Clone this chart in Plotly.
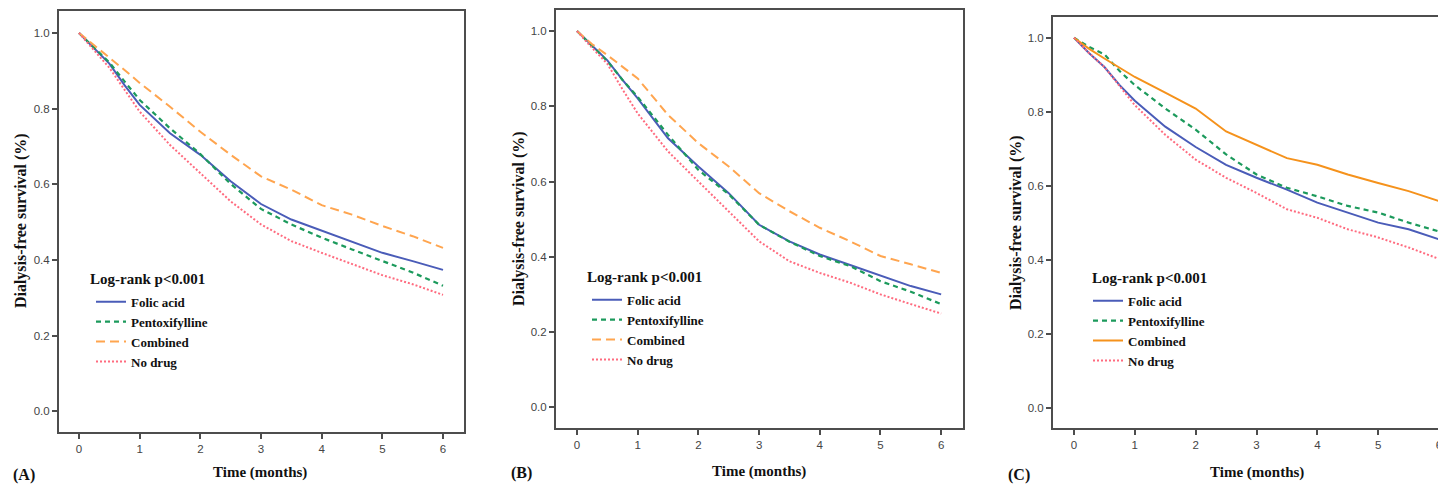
import plotly.graph_objects as go

# ---------------- data ----------------
time_months = [0, 0.25, 0.5, 0.75, 1, 1.5, 2, 2.5, 3, 3.5, 4, 4.5, 5, 5.5, 6]
series_names = ["Folic acid", "Pentoxifylline", "Combined", "No drug"]
panel_labels = ["(A)", "(B)", "(C)"]
x_ticks = [0, 1, 2, 3, 4, 5, 6]
y_ticks = [0.0, 0.2, 0.4, 0.6, 0.8, 1.0]
y_tick_text = ["0.0", "0.2", "0.4", "0.6", "0.8", "1.0"]

a_folic = [1, 0.96, 0.919, 0.862, 0.81, 0.735, 0.678, 0.608, 0.548, 0.507, 0.478, 0.45, 0.419, 0.397, 0.374]
a_pentox = [1, 0.962, 0.922, 0.872, 0.823, 0.748, 0.68, 0.601, 0.535, 0.494, 0.459, 0.428, 0.397, 0.367, 0.332]
a_combined = [1, 0.968, 0.935, 0.902, 0.868, 0.805, 0.739, 0.678, 0.621, 0.586, 0.545, 0.52, 0.49, 0.463, 0.432]
a_nodrug = [1, 0.955, 0.908, 0.85, 0.792, 0.704, 0.63, 0.555, 0.494, 0.45, 0.419, 0.389, 0.36, 0.336, 0.308]

b_folic = [1, 0.96, 0.922, 0.87, 0.821, 0.715, 0.64, 0.569, 0.485, 0.441, 0.406, 0.378, 0.349, 0.322, 0.3]
b_pentox = [1, 0.96, 0.92, 0.87, 0.825, 0.724, 0.631, 0.566, 0.485, 0.44, 0.402, 0.375, 0.335, 0.307, 0.274]
b_combined = [1, 0.965, 0.936, 0.905, 0.874, 0.777, 0.702, 0.64, 0.569, 0.521, 0.477, 0.441, 0.402, 0.38, 0.357]
b_nodrug = [1, 0.955, 0.913, 0.845, 0.781, 0.68, 0.6, 0.521, 0.441, 0.388, 0.357, 0.331, 0.3, 0.274, 0.249]

c_folic = [1, 0.958, 0.921, 0.872, 0.83, 0.76, 0.705, 0.657, 0.622, 0.59, 0.555, 0.528, 0.501, 0.483, 0.456]
c_pentox = [1, 0.975, 0.955, 0.91, 0.872, 0.809, 0.752, 0.685, 0.631, 0.595, 0.572, 0.546, 0.528, 0.501, 0.477]
c_combined = [1, 0.97, 0.944, 0.92, 0.894, 0.852, 0.809, 0.747, 0.711, 0.675, 0.657, 0.631, 0.608, 0.586, 0.559]
c_nodrug = [1, 0.958, 0.921, 0.87, 0.818, 0.738, 0.671, 0.622, 0.581, 0.537, 0.514, 0.483, 0.461, 0.434, 0.403]

panels = [
    [a_folic, a_pentox, a_combined, a_nodrug],
    [b_folic, b_pentox, b_combined, b_nodrug],
    [c_folic, c_pentox, c_combined, c_nodrug],
]

# ---------------- styling ----------------
PAGE_W, PAGE_H = 1446, 486
OFF = 8  # default page margin of the html body
W, H = PAGE_W - OFF, PAGE_H - OFF
BLUE = "#4a5cb8"
GREEN = "#1c9a5c"
ORANGE_LIGHT = "#ffa54f"
ORANGE_DARK = "#f5921c"
RED = "#ff6b7f"
FRAME = "#4d4d4d"
SERIF = "Liberation Serif, Times New Roman, serif"
SANS = "Liberation Sans, Arial, sans-serif"

styles = [
    [dict(color=BLUE, width=2, dash="solid"),
     dict(color=GREEN, width=2.2, dash="5px,4px"),
     dict(color=ORANGE_LIGHT, width=2, dash="9px,5px"),
     dict(color=RED, width=2, dash="2px,2px")],
    [dict(color=BLUE, width=2, dash="solid"),
     dict(color=GREEN, width=2.2, dash="5px,4px"),
     dict(color=ORANGE_LIGHT, width=2, dash="9px,5px"),
     dict(color=RED, width=2, dash="2px,2px")],
    [dict(color=BLUE, width=2, dash="solid"),
     dict(color=GREEN, width=2.2, dash="5px,4px"),
     dict(color=ORANGE_DARK, width=2, dash="solid"),
     dict(color=RED, width=2, dash="2px,2px")],
]

# page-pixel geometry of each panel frame: left, top, right, bottom
frames = [(59, 9, 464, 432), (556, 8, 963, 428), (1053, 15, 1446, 428)]
xranges = [(-0.33, 6.346), (-0.346, 6.36), (-0.345, 6.115)]
yranges = [(-0.055, 1.058), (-0.056, 1.056), (-0.054, 1.056)]
legend_pos = [(91, 286), (587, 284), (1088, 285)]   # left px, top px (page)
logrank_pos = [(88, 278), (585, 276), (1090, 277)]
xtitle_pos = [(260, 472), (759, 471), (1257, 472)]
ytitle_pos = [(21, 220), (519, 218), (1016, 222)]
label_pos = [(24, 475), (521, 473), (1019, 475)]


def px(x):
    return (x - OFF) / W


def py(y):
    return 1 - (y - OFF) / H


fig = go.Figure()
annotations = []
layout_extra = {}

for i in range(3):
    xa = "x" if i == 0 else f"x{i+1}"
    ya = "y" if i == 0 else f"y{i+1}"
    lg = "legend" if i == 0 else f"legend{i+1}"
    for name, vals, st in zip(series_names, panels[i], styles[i]):
        fig.add_trace(go.Scatter(
            x=time_months, y=vals, mode="lines", name=name,
            line=dict(color=st["color"], width=st["width"], dash=st["dash"]),
            xaxis=xa, yaxis=ya, legend=lg, hoverinfo="skip"))

    l, t, r, b = frames[i]
    xkey = "xaxis" if i == 0 else f"xaxis{i+1}"
    ykey = "yaxis" if i == 0 else f"yaxis{i+1}"
    layout_extra[xkey] = dict(
        domain=[px(l), min(px(r), 1.0)], range=list(xranges[i]), anchor=ya,
        tickmode="array", tickvals=x_ticks, ticktext=[str(v) for v in x_ticks],
        ticks="outside", ticklen=5, tickcolor=FRAME, tickwidth=1.5,
        showline=True, linecolor=FRAME, linewidth=2, mirror=True,
        showgrid=False, zeroline=False,
        tickfont=dict(family=SANS, size=11.5, color="#444"))
    layout_extra[ykey] = dict(
        domain=[py(b), min(py(t), 1.0)], range=list(yranges[i]), anchor=xa,
        tickmode="array", tickvals=y_ticks, ticktext=y_tick_text,
        ticks="outside", ticklen=5, tickcolor=FRAME, tickwidth=1.5,
        showline=True, linecolor=FRAME, linewidth=2, mirror=(i != 2),
        showgrid=False, zeroline=False,
        tickfont=dict(family=SANS, size=11.5, color="#444"))
    layout_extra[lg] = dict(
        x=px(legend_pos[i][0]), y=py(legend_pos[i][1]), xanchor="left", yanchor="top",
        xref="paper", yref="paper", bgcolor="rgba(0,0,0,0)", borderwidth=0,
        font=dict(family=SERIF, size=13, color="#111", weight="bold"),
        itemwidth=30, tracegroupgap=0)

    annotations.append(dict(
        text="Log-rank p<0.001", x=px(logrank_pos[i][0]), y=py(logrank_pos[i][1]),
        xref="paper", yref="paper", xanchor="left", yanchor="middle", showarrow=False,
        font=dict(family=SERIF, size=15, color="#111", weight="bold")))
    annotations.append(dict(
        text="Time (months)", x=px(xtitle_pos[i][0]), y=py(xtitle_pos[i][1]),
        xref="paper", yref="paper", xanchor="center", yanchor="middle", showarrow=False,
        font=dict(family=SERIF, size=15, color="#111", weight="bold")))
    annotations.append(dict(
        text="Dialysis-free survival (%)", x=px(ytitle_pos[i][0]), y=py(ytitle_pos[i][1]),
        xref="paper", yref="paper", xanchor="center", yanchor="middle", showarrow=False,
        textangle=-90,
        font=dict(family=SERIF, size=16, color="#111", weight="bold")))
    annotations.append(dict(
        text=panel_labels[i], x=px(label_pos[i][0]), y=py(label_pos[i][1]),
        xref="paper", yref="paper", xanchor="center", yanchor="middle", showarrow=False,
        font=dict(family=SERIF, size=16, color="#111", weight="bold")))

fig.update_layout(
    width=W, height=H, autosize=False,
    margin=dict(l=0, r=0, t=0, b=0),
    paper_bgcolor="white", plot_bgcolor="white",
    showlegend=True,
    annotations=annotations,
    **layout_extra)

fig.write_html("out.html", config={"displayModeBar": False})
